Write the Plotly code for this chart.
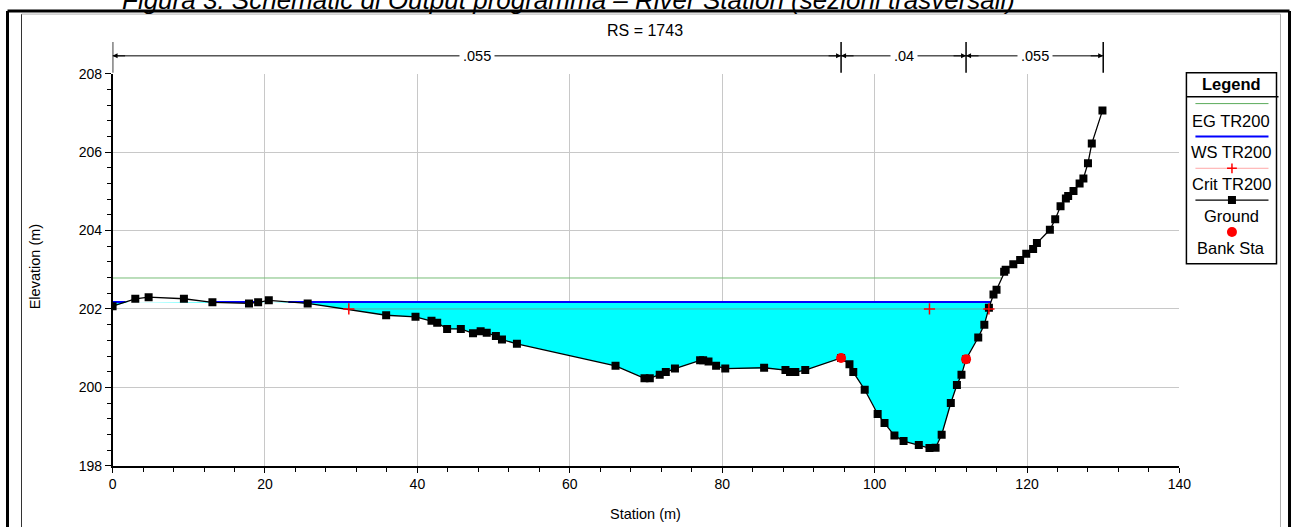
import numpy as np
import plotly.graph_objects as go

# ---------------- data ----------------
ground_x = [0.0, 2.98, 4.73, 9.36, 13.1, 17.9, 19.1, 20.5, 25.6, 35.9, 39.75, 41.85, 42.6,
            43.9, 45.7, 47.3, 48.3, 49.1, 50.3, 51.1, 53.06, 66.0, 69.8, 70.5, 71.8, 72.6,
            73.8, 77.1, 77.5, 78.2, 79.2, 80.4, 85.5, 88.3, 88.9, 89.6, 90.9, 95.6, 96.7,
            97.2, 98.7, 100.4, 101.3, 102.6, 103.8, 105.8, 107.2, 108.0, 108.8, 110.0, 110.8,
            111.4, 112.0, 113.6, 114.4, 115.0, 115.6, 116.0, 117.0, 117.2, 118.2, 119.1,
            119.9, 120.8, 121.3, 123.0, 123.7, 124.4, 125.1, 125.4, 126.1, 126.9, 127.4,
            128.0, 128.5, 129.9]
ground_y = [202.07, 202.26, 202.30, 202.26, 202.17, 202.14, 202.17, 202.22, 202.14, 201.84,
            201.80, 201.70, 201.65, 201.49, 201.49, 201.38, 201.43, 201.39, 201.31, 201.22,
            201.11, 200.55, 200.23, 200.23, 200.32, 200.39, 200.48, 200.69, 200.69, 200.66,
            200.55, 200.48, 200.50, 200.44, 200.39, 200.39, 200.44, 200.75, 200.59, 200.39,
            199.94, 199.32, 199.09, 198.77, 198.63, 198.53, 198.45, 198.46, 198.79, 199.60,
            200.06, 200.32, 200.72, 201.27, 201.60, 202.03, 202.37, 202.49, 202.95, 203.00,
            203.14, 203.25, 203.41, 203.53, 203.68, 204.02, 204.29, 204.62, 204.82, 204.88,
            205.01, 205.20, 205.33, 205.72, 206.22, 207.06]

ws_elev = 202.18      # WS TR200
eg_elev = 202.79      # EG TR200
crit_elev = 202.00    # Crit TR200
crit_x = [31.0, 107.2, 115.0]

bank_x = [95.6, 112.0]
bank_y = [200.75, 200.72]

mann_sta = [0.0, 95.6, 112.0, 130.0]
mann_n = [".055", ".04", ".055"]

rs_label = "RS = 1743"
legend_labels = ["EG TR200", "WS TR200", "Crit TR200", "Ground", "Bank Sta"]

# ---------------- helpers ----------------
W, H = 1298, 527
# the captured picture maps figure pixel f to picture pixel q ~= A*f + B;
# helpers take target picture positions and return paper fractions.
AX, BX, AY, BY = 0.9869, 4.5, 0.9746, 6.9
FONT = "Arial, 'Liberation Sans', sans-serif"


def px(x):
    return ((x - BX) / AX) / W


def py(y):
    return 1 - ((y - BY) / AY) / H


def fpx(x):
    return (x - BX) / AX


def fpy(y):
    return (y - BY) / AY


gx = np.array(ground_x)
gy = np.array(ground_y)


def right_crossing(level):
    i0 = int(np.argmin(gy))
    for i in range(i0, len(gy) - 1):
        if gy[i] <= level <= gy[i + 1]:
            return gx[i] + (level - gy[i]) * (gx[i + 1] - gx[i]) / (gy[i + 1] - gy[i])
    return gx[-1]


x_ws_end = right_crossing(ws_elev)
x_eg_end = right_crossing(eg_elev)

xf = np.union1d(np.linspace(0, x_ws_end, 3000), gx[gx <= x_ws_end])
gf = np.interp(xf, gx, gy)
water_bottom = np.minimum(gf, ws_elev)
ws_line = [ws_elev if g <= ws_elev else None for g in gf]

fig = go.Figure()

# water fill
fig.add_trace(go.Scatter(x=xf, y=np.full_like(xf, ws_elev), mode="lines",
                         line=dict(width=0, color="rgba(0,0,0,0)"), hoverinfo="skip"))
fig.add_trace(go.Scatter(x=xf, y=water_bottom, mode="lines", fill="tonexty",
                         fillcolor="#00FFFF", line=dict(width=0, color="rgba(0,0,0,0)"),
                         hoverinfo="skip"))
# crit line
fig.add_trace(go.Scatter(x=[min(crit_x), max(crit_x)], y=[crit_elev, crit_elev], mode="lines",
                         line=dict(color="rgba(255,0,0,0.35)", width=1)))
# EG line
fig.add_trace(go.Scatter(x=[0, x_eg_end], y=[eg_elev, eg_elev], mode="lines",
                         line=dict(color="rgb(120,190,120)", width=1)))
# WS line
fig.add_trace(go.Scatter(x=xf, y=ws_line, mode="lines", connectgaps=False,
                         line=dict(color="#0000FF", width=2)))
# ground
fig.add_trace(go.Scatter(x=ground_x, y=ground_y, mode="lines+markers",
                         line=dict(color="black", width=1.3),
                         marker=dict(symbol="square", size=8, color="black")))
# bank stations
fig.add_trace(go.Scatter(x=bank_x, y=bank_y, mode="markers",
                         marker=dict(symbol="circle", size=10, color="#FF0000")))
# crit markers
fig.add_trace(go.Scatter(x=crit_x, y=[crit_elev] * len(crit_x), mode="markers",
                         marker=dict(symbol="cross-thin", size=8,
                                     line=dict(color="#FF0000", width=1.5))))

# ---------------- legend (inset axis in picture-pixel units) ----------------
LX0, LX1, LY0, LY1 = 1180, 1284, 66, 270
fig.update_layout(
    xaxis2=dict(domain=[px(LX0), px(LX1)], range=[LX0, LX1], visible=False, anchor="y2"),
    yaxis2=dict(domain=[py(LY1), py(LY0)], range=[LY1, LY0], visible=False, anchor="x2"),
)
fig.add_shape(type="rect", xref="x2", yref="y2", x0=1186, x1=1276, y0=72, y1=264,
              line=dict(color="black", width=1.5))
fig.add_shape(type="line", xref="x2", yref="y2", x0=1186, x1=1278, y0=96, y1=96,
              line=dict(color="black", width=1.5))
fig.add_annotation(xref="x2", yref="y2", x=1231, y=83, text="<b>Legend</b>", showarrow=False,
                   xanchor="center", yanchor="middle",
                   font=dict(family=FONT, size=16.5, color="black"))
sample_y = [103, 136, 168, 200, 232]
text_y = [120, 152, 184, 216, 248]
lx = [1195, 1268]
fig.add_trace(go.Scatter(x=lx, y=[sample_y[0]] * 2, xaxis="x2", yaxis="y2", mode="lines",
                         line=dict(color="rgb(90,170,90)", width=1)))
fig.add_trace(go.Scatter(x=lx, y=[sample_y[1]] * 2, xaxis="x2", yaxis="y2", mode="lines",
                         line=dict(color="#0000FF", width=2)))
fig.add_trace(go.Scatter(x=lx, y=[sample_y[2]] * 2, xaxis="x2", yaxis="y2", mode="lines",
                         line=dict(color="rgba(255,0,0,0.35)", width=1)))
fig.add_trace(go.Scatter(x=[1231.5], y=[sample_y[2]], xaxis="x2", yaxis="y2", mode="markers",
                         marker=dict(symbol="cross-thin", size=7, line=dict(color="#FF0000", width=1.5))))
fig.add_trace(go.Scatter(x=lx, y=[sample_y[3]] * 2, xaxis="x2", yaxis="y2", mode="lines",
                         line=dict(color="black", width=1.3)))
fig.add_trace(go.Scatter(x=[1231.5], y=[sample_y[3]], xaxis="x2", yaxis="y2", mode="markers",
                         marker=dict(symbol="square", size=8, color="black")))
fig.add_trace(go.Scatter(x=[1231.5], y=[sample_y[4]], xaxis="x2", yaxis="y2", mode="markers",
                         marker=dict(symbol="circle", size=10, color="#FF0000")))
for lab, ty in zip(legend_labels, text_y):
    fig.add_annotation(xref="x2", yref="y2", x=1231, y=ty, text=lab, showarrow=False,
                       xanchor="center", yanchor="middle",
                       font=dict(family=FONT, size=16.5, color="black"))

# ---------------- roughness arrows ----------------
ARROW_Y = 55
fig.add_shape(type="line", xref="x", yref="paper", x0=mann_sta[0], x1=mann_sta[-1],
              y0=py(ARROW_Y), y1=py(ARROW_Y), line=dict(color="black", width=1))
for s in mann_sta:
    fig.add_shape(type="line", xref="x", yref="paper", x0=s, x1=s, y0=py(41), y1=py(72),
                  line=dict(color="black", width=1.5))
for i, n in enumerate(mann_n):
    a, b = mann_sta[i], mann_sta[i + 1]
    fig.add_annotation(xref="x", yref="paper", x=a, y=py(ARROW_Y), ax=14, ay=0,
                       axref="pixel", ayref="pixel", text="", showarrow=True,
                       arrowhead=2, arrowsize=1, arrowwidth=1, arrowcolor="black", standoff=0)
    fig.add_annotation(xref="x", yref="paper", x=b, y=py(ARROW_Y), ax=-14, ay=0,
                       axref="pixel", ayref="pixel", text="", showarrow=True,
                       arrowhead=2, arrowsize=1, arrowwidth=1, arrowcolor="black", standoff=0)
    fig.add_annotation(xref="x", yref="paper", x=(a + b) / 2, y=py(ARROW_Y), text=n,
                       showarrow=False, bgcolor="white", borderpad=3,
                       xanchor="center", yanchor="middle",
                       font=dict(family=FONT, size=14.5, color="black"))

# ---------------- titles & frame ----------------
fig.add_annotation(xref="paper", yref="paper", x=px(645), y=py(30), text=rs_label, showarrow=False,
                   xanchor="center", yanchor="middle",
                   font=dict(family=FONT, size=16, color="black"))
fig.add_annotation(xref="paper", yref="paper", x=px(645), y=py(515), text="Station (m)",
                   xanchor="center", yanchor="middle",
                   showarrow=False, font=dict(family=FONT, size=14.5, color="black"))
fig.add_annotation(xref="paper", yref="paper", x=px(35), y=py(267), text="Elevation (m)",
                   xanchor="center", yanchor="middle",
                   textangle=-90, showarrow=False, font=dict(family=FONT, size=14.5, color="black"))
fig.add_annotation(xref="paper", yref="paper", x=px(120), y=py(-1), xanchor="left",
                   yanchor="middle",
                   text="<i>Figura 3. Schematic di Output programma – River Station (sezioni trasversali)</i>",
                   showarrow=False, font=dict(family=FONT, size=26, color="black"))

# outer frames
BOT = 545
fig.add_shape(type="line", xref="paper", yref="paper", x0=px(8), x1=px(8), y0=py(10), y1=py(BOT),
              line=dict(color="black", width=3))
fig.add_shape(type="line", xref="paper", yref="paper", x0=px(8), x1=px(1289), y0=py(10), y1=py(10),
              line=dict(color="black", width=3))
fig.add_shape(type="line", xref="paper", yref="paper", x0=px(1289), x1=px(1289), y0=py(10), y1=py(BOT),
              line=dict(color="black", width=3))
fig.add_shape(type="line", xref="paper", yref="paper", x0=px(22), x1=px(22), y0=py(13), y1=py(BOT),
              line=dict(color="#333333", width=1))
fig.add_shape(type="line", xref="paper", yref="paper", x0=px(22), x1=px(1280), y0=py(13), y1=py(13),
              line=dict(color="#b0b0b0", width=1))
fig.add_shape(type="line", xref="paper", yref="paper", x0=px(1280), x1=px(1280), y0=py(13), y1=py(BOT),
              line=dict(color="#b0b0b0", width=1))

fig.update_layout(
    width=W, height=H, margin=dict(l=0, r=0, t=0, b=0, pad=0),
    paper_bgcolor="white", plot_bgcolor="white", showlegend=False,
    font=dict(family=FONT, size=14, color="black"),
    xaxis=dict(domain=[px(113), px(1179)], range=[0, 140], tick0=0, dtick=20,
               showgrid=True, gridcolor="#c8c8c8", gridwidth=1, zeroline=False,
               showline=True, linecolor="black", linewidth=1.5,
               ticks="outside", ticklen=5, tickcolor="black", tickwidth=1,
               tickfont=dict(family=FONT, size=14, color="black"),
               minor=dict(dtick=4, tick0=0, ticks="outside", ticklen=4, tickcolor="black",
                          showgrid=False),
               anchor="y"),
    yaxis=dict(domain=[py(467), py(73)], range=[198, 208], tick0=198, dtick=2,
               showgrid=True, gridcolor="#c8c8c8", gridwidth=1, zeroline=False,
               showline=True, linecolor="black", linewidth=1.5,
               ticks="outside", ticklen=6, tickcolor="black", tickwidth=1,
               tickfont=dict(family=FONT, size=14, color="black"),
               minor=dict(dtick=0.4, tick0=198, ticks="outside", ticklen=4, tickcolor="black",
                          showgrid=False),
               anchor="x"),
)

fig.write_html("out.html")
